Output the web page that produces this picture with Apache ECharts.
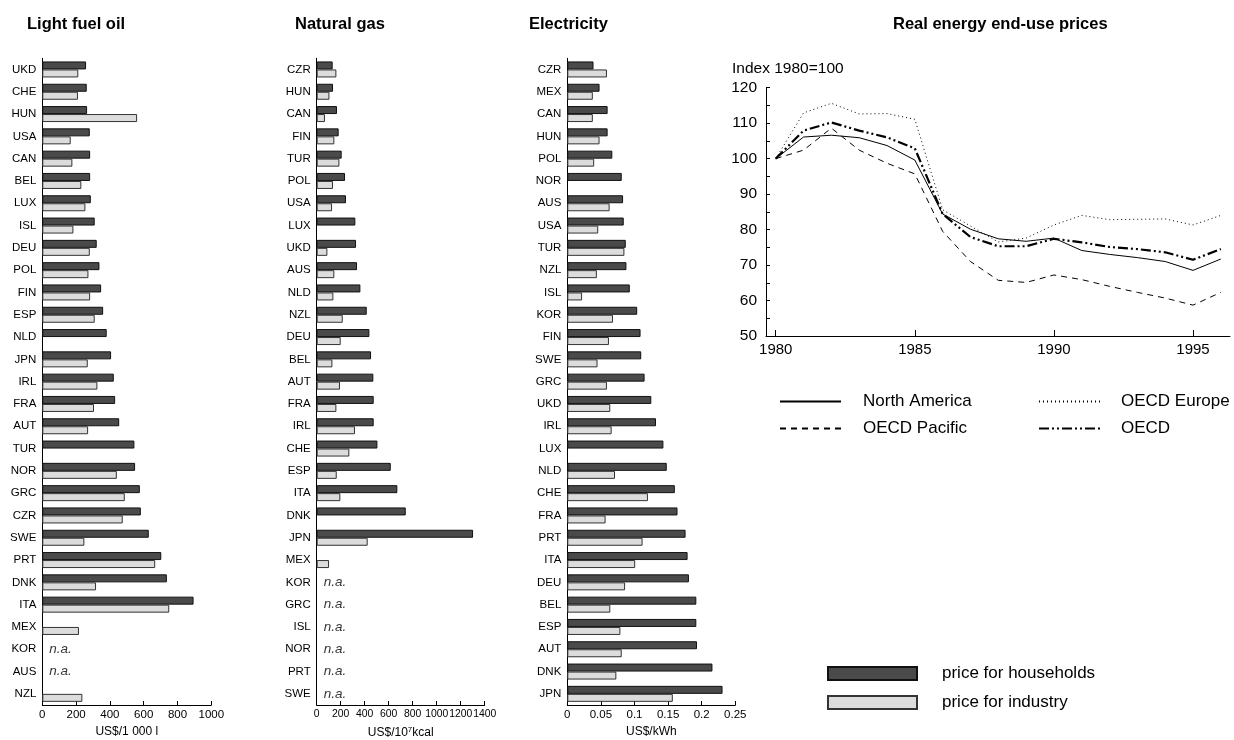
<!DOCTYPE html>
<html><head><meta charset="utf-8">
<script src="https://cdn.jsdelivr.net/npm/echarts@6/dist/echarts.min.js"></script>
<style>html,body{margin:0;padding:0;background:#fff}#c{width:1234px;height:740px}</style>
</head><body><div id="c"></div>
<script>
// ---- Light fuel oil (US$/1 000 l) ----
const lfoCats = ['UKD','CHE','HUN','USA','CAN','BEL','LUX','ISL','DEU','POL','FIN','ESP','NLD','JPN','IRL','FRA','AUT','TUR','NOR','GRC','CZR','SWE','PRT','DNK','ITA','MEX','KOR','AUS','NZL'];
const lfoHouse = [259,263,265,281,283,283,287,310,322,338,348,360,381,407,423,431,455,545,549,577,583,630,704,737,895,null,null,null,null];
const lfoInd   = [213,211,561,168,178,231,255,184,281,273,283,310,null,269,326,306,271,null,441,488,476,249,668,318,751,217,null,null,237];
const lfoTicks = [0,200,400,600,800,1000];

// ---- Natural gas (US$/10^7 kcal) ----
const gasCats = ['CZR','HUN','CAN','FIN','TUR','POL','USA','LUX','UKD','AUS','NLD','NZL','DEU','BEL','AUT','FRA','IRL','CHE','ESP','ITA','DNK','JPN','MEX','KOR','GRC','ISL','NOR','PRT','SWE'];
const gasHouse = [133,136,169,183,208,236,244,322,328,336,364,417,439,453,472,475,475,506,617,672,742,1303,null,null,null,null,null,null,null];
const gasInd   = [164,106,69,147,189,136,128,null,89,147,139,217,200,131,194,164,319,272,167,197,null,425,103,null,null,null,null,null,null];
const gasTicks = [0,200,400,600,800,1000,1200,1400];

// ---- Electricity (US$/kWh) ----
const elecCats = ['CZR','MEX','CAN','HUN','POL','NOR','AUS','USA','TUR','NZL','ISL','KOR','FIN','SWE','GRC','UKD','IRL','LUX','NLD','CHE','FRA','PRT','ITA','DEU','BEL','ESP','AUT','DNK','JPN'];
const elecHouse = [0.039,0.048,0.060,0.060,0.067,0.081,0.083,0.084,0.087,0.088,0.093,0.104,0.109,0.110,0.115,0.125,0.132,0.143,0.148,0.160,0.164,0.176,0.179,0.181,0.192,0.192,0.193,0.216,0.231];
const elecInd   = [0.059,0.038,0.038,0.048,0.040,null,0.063,0.046,0.085,0.044,0.022,0.068,0.062,0.045,0.059,0.064,0.066,null,0.071,0.120,0.057,0.112,0.101,0.086,0.064,0.079,0.081,0.073,0.157];
const elecTicks = [0,0.05,0.1,0.15,0.2,0.25];

// ---- Real energy end-use prices (Index 1980=100) ----
const years = [1980,1981,1982,1983,1984,1985,1986,1987,1988,1989,1990,1991,1992,1993,1994,1995,1996];
const northAmerica = [100,106.1,106.6,105.9,103.7,99.6,84.4,80.1,77.4,76.7,77.6,74.1,73.0,72.1,71.0,68.5,71.7];
const oecdPacific  = [100,102.4,108.6,102.4,98.7,95.7,79.5,71.0,65.7,65.1,67.2,65.9,64.0,62.3,60.7,58.7,62.3];
const oecdEurope   = [100,112.9,115.6,112.6,112.7,111.1,85.6,81.0,76.5,77.6,81.3,84.0,82.8,82.9,83.0,81.3,84.0];
const oecd         = [100,107.9,110.2,107.9,106.0,102.9,84.4,77.9,75.3,75.3,77.4,76.4,75.1,74.5,73.6,71.5,74.5];
const yearTicks = [1980,1985,1990,1995];

const SANS = '"Liberation Sans",Arial,sans-serif';
const HOUSE = 'price for households', IND = 'price for industry';
const houseStyle = {color:'#4a4a4a', borderColor:'#111', borderWidth:1};
const indStyle = {color:'#dcdcdc', borderColor:'#333', borderWidth:1};
const plain = v => String(v);

const chart = echarts.init(document.getElementById('c'), null, {renderer:'canvas'});

const barGrids = [
  {left:42.3, top:58.3, width:169, height:646.7},
  {left:316.7, top:58.3, width:168, height:646.7},
  {left:567.3, top:58.3, width:168, height:646.7}
];
const panels = [
  {cats:lfoCats, house:lfoHouse, ind:lfoInd, ticks:lfoTicks, max:1000, interval:200, fs:11.5, name:'US$/1 000 l'},
  {cats:gasCats, house:gasHouse, ind:gasInd, ticks:gasTicks, max:1400, interval:200, fs:10.4, name:'US$/10{sup|7}kcal'},
  {cats:elecCats, house:elecHouse, ind:elecInd, ticks:elecTicks, max:0.25, interval:0.05, fs:11.5, name:'US$/kWh'}
];

const grid = barGrids.map(g => Object.assign({outerBoundsMode:'none', containLabel:false}, g));
grid.push({left:766, top:87.7, width:464, height:248.3, outerBoundsMode:'none', containLabel:false});

const xAxis = [], yAxis = [], series = [];
panels.forEach((p, i) => {
  xAxis.push({
    type:'value', gridIndex:i, min:0, max:p.max, interval:p.interval,
    splitLine:{show:false},
    axisLine:{show:true, lineStyle:{color:'#000', width:1}},
    axisTick:{show:true, inside:true, length:4, customValues:p.ticks, lineStyle:{color:'#000'}},
    axisLabel:{customValues:p.ticks, fontFamily:SANS, fontSize:p.fs, color:'#000', margin:4, hideOverlap:false,
      formatter:plain},
    name:p.name, nameLocation:'middle', nameGap:21,
    nameTextStyle:{fontFamily:SANS, fontSize:12, color:'#000',
      rich:{sup:{fontFamily:SANS, fontSize:8, color:'#000', verticalAlign:'top', padding:[0,0,5,0]}}}
  });
  yAxis.push({
    type:'category', gridIndex:i, data:p.cats, inverse:true,
    axisLine:{show:true, lineStyle:{color:'#000', width:1}},
    axisTick:{show:false},
    axisLabel:{fontFamily:SANS, fontSize:11.5, color:'#000', margin:6, interval:0}
  });
  series.push({
    type:'bar', name:HOUSE, xAxisIndex:i, yAxisIndex:i, data:p.house,
    barWidth:8, barGap:'0%', itemStyle:houseStyle, silent:true
  });
  series.push({
    type:'bar', name:IND, xAxisIndex:i, yAxisIndex:i, data:p.ind,
    barWidth:8, barGap:'0%', itemStyle:indStyle, silent:true
  });
  const na = p.cats.filter((c, k) => p.house[k] == null && p.ind[k] == null).map(c => [0, c]);
  series.push({
    type:'scatter', xAxisIndex:i, yAxisIndex:i, data:na, symbolSize:0, silent:true,
    label:{show:true, position:'right', distance:7, formatter:'n.a.',
      fontFamily:SANS, fontStyle:'italic', fontSize:13.5, color:'#000'}
  });
});

// line chart axes
xAxis.push({
  type:'value', gridIndex:3, min:1979.65, max:1996.33,
  splitLine:{show:false},
  axisLine:{show:true, lineStyle:{color:'#000'}},
  axisTick:{show:true, inside:true, length:6, customValues:yearTicks, lineStyle:{color:'#000'}},
  axisLabel:{customValues:yearTicks, fontFamily:SANS, fontSize:15, color:'#000', margin:6, formatter:plain}
});
yAxis.push({
  type:'value', gridIndex:3, min:50, max:120, interval:10,
  splitLine:{show:false},
  axisLine:{show:true, lineStyle:{color:'#000'}},
  axisTick:{show:true, inside:true, length:4, lineStyle:{color:'#000'}},
  minorTick:{show:true, splitNumber:2, length:4, lineStyle:{color:'#000'}},
  axisLabel:{fontFamily:SANS, fontSize:15.5, color:'#000', margin:9, formatter:plain}
});
const zip = arr => years.map((y, k) => [y, arr[k]]);
const lineDefs = [
  {name:'North America', data:northAmerica, ls:{type:'solid', width:1}},
  {name:'OECD Pacific', data:oecdPacific, ls:{type:[6,5], width:1}},
  {name:'OECD Europe', data:oecdEurope, ls:{type:[1,3], width:1}},
  {name:'OECD', data:oecd, ls:{type:[10,3,2,3,2,3], width:2.2}}
];
lineDefs.forEach(d => series.push({
  type:'line', name:d.name, xAxisIndex:3, yAxisIndex:3, data:zip(d.data),
  symbol:'none', silent:true, lineStyle:Object.assign({color:'#000'}, d.ls), itemStyle:{color:'#000'}
}));

const titleStyle = {fontFamily:SANS, fontWeight:'bold', fontSize:16.5, color:'#000'};
const hiddenSym = {color:'rgba(0,0,0,0)', borderColor:'rgba(0,0,0,0)', borderWidth:0, opacity:0};
const option = {
  backgroundColor:'#fff',
  animation:false,
  title:[
    {text:'Light fuel oil', left:27, top:16, textStyle:titleStyle, padding:0},
    {text:'Natural gas', left:295, top:16, textStyle:titleStyle, padding:0},
    {text:'Electricity', left:529, top:16, textStyle:titleStyle, padding:0},
    {text:'Real energy end-use prices', left:893, top:16, textStyle:titleStyle, padding:0},
    {text:'Index 1980=100', left:732, top:61, padding:0, textStyle:{fontFamily:SANS, fontWeight:'normal', fontSize:15.5, color:'#000'}}
  ],
  legend:[
    {data:['North America','OECD Pacific'], orient:'vertical', left:779, top:393, itemWidth:61, itemHeight:14, itemGap:10,
      padding:0, selectedMode:false, itemStyle:hiddenSym, textStyle:{fontFamily:SANS, fontSize:17, color:'#000', padding:[0,0,0,17]}},
    {data:['OECD Europe','OECD'], orient:'vertical', left:1038, top:393, itemWidth:62, itemHeight:14, itemGap:10,
      padding:0, selectedMode:false, itemStyle:hiddenSym, textStyle:{fontFamily:SANS, fontSize:17, color:'#000', padding:[0,0,0,15]}},
    {data:[HOUSE, IND], orient:'vertical', left:827, top:665, itemWidth:89, itemHeight:13, itemGap:12, icon:'rect',
      padding:0, selectedMode:false, textStyle:{fontFamily:SANS, fontSize:17, color:'#000', padding:[0,0,0,20]}}
  ],
  grid, xAxis, yAxis, series
};
chart.setOption(option);
</script></body></html>
